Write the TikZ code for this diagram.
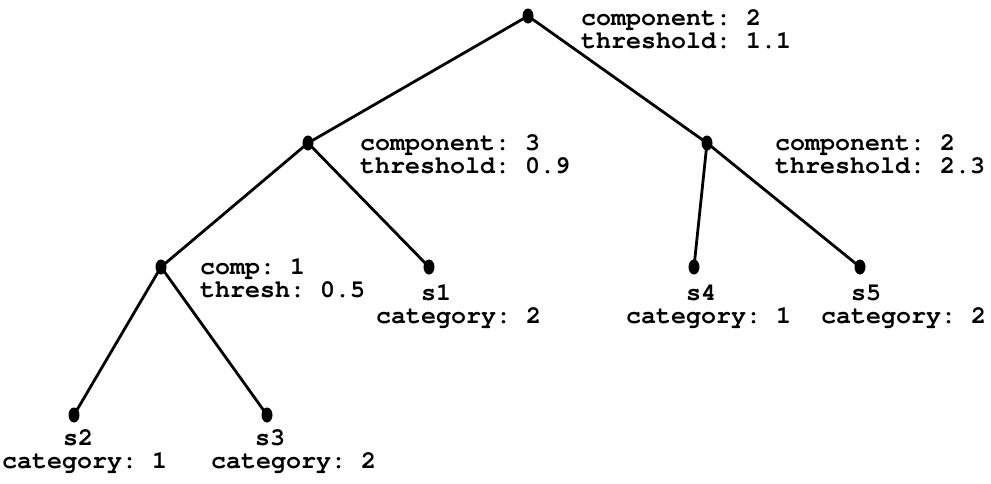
\documentclass[tikz,border=0pt]{standalone}
\usepackage[T1]{fontenc}
\usepackage{courier}
\usetikzlibrary{shapes.geometric}
\frenchspacing

% first line of a two-line rule gets a fixed height, so the node top sits 17pt above its baseline
\newcommand{\firstline}{\rule{0pt}{17pt}}

\tikzset{
  treedot/.style={ellipse, fill=black, inner sep=0pt, minimum width=11pt, minimum height=15pt},
  branch/.style={line width=2.8pt},
  mono/.style={inner sep=0pt, font=\fontfamily{pcr}\bfseries\fontsize{25}{23.5}\selectfont},
  lbl/.style={mono, anchor=base west, text height=15pt, text depth=5pt},
  rulelbl/.style={mono, anchor=north west, align=left}
}

\begin{document}
\begin{tikzpicture}[x=1pt, y=-1pt]
\useasboundingbox (0,0) rectangle (991,483);

% split points and leaves
\node[treedot] (root) at (528,16) {};
\node[treedot] (nl)   at (308,143) {};
\node[treedot] (nr)   at (707,143) {};
\node[treedot] (nll)  at (161,267) {};
\node[treedot] (s1)   at (429,267) {};
\node[treedot] (s4)   at (694,267) {};
\node[treedot] (s5)   at (860,267) {};
\node[treedot] (s2)   at (74,415) {};
\node[treedot] (s3)   at (267,415) {};

% branches
\draw[branch] (root.center) -- (nl.center);
\draw[branch] (root.center) -- (nr.center);
\draw[branch] (nl.center) -- (nll.center);
\draw[branch] (nl.center) -- (s1.center);
\draw[branch] (nr.center) -- (s4.center);
\draw[branch] (nr.center) -- (s5.center);
\draw[branch] (nll.center) -- (s2.center);
\draw[branch] (nll.center) -- (s3.center);

% split rules (first baseline 17pt below the node top)
\node[rulelbl] (rootrule) at (581,8)   {\firstline component: 2\\threshold: 1.1};
\node[rulelbl] (nlrule)   at (360,133) {\firstline component: 3\\threshold: 0.9};
\node[rulelbl] (nrrule)   at (775,133) {\firstline component: 2\\threshold: 2.3};
\node[rulelbl] (nllrule)  at (200,257) {\firstline comp: 1\\thresh: 0.5};

% leaf names and categories
\node[lbl] (s1A) at (421,300) {s1};
\node[lbl] (s1B) at (376,323) {category: 2};
\node[lbl] (s4A) at (686,300) {s4};
\node[lbl] (s4B) at (626,323) {category: 1};
\node[lbl] (s5A) at (851,300) {s5};
\node[lbl] (s5B) at (821,323) {category: 2};
\node[lbl] (s2A) at (63,445) {s2};
\node[lbl] (s2B) at (2,468) {category: 1};
\node[lbl] (s3A) at (255,445) {s3};
\node[lbl] (s3B) at (211,468) {category: 2};
\end{tikzpicture}
\end{document}
